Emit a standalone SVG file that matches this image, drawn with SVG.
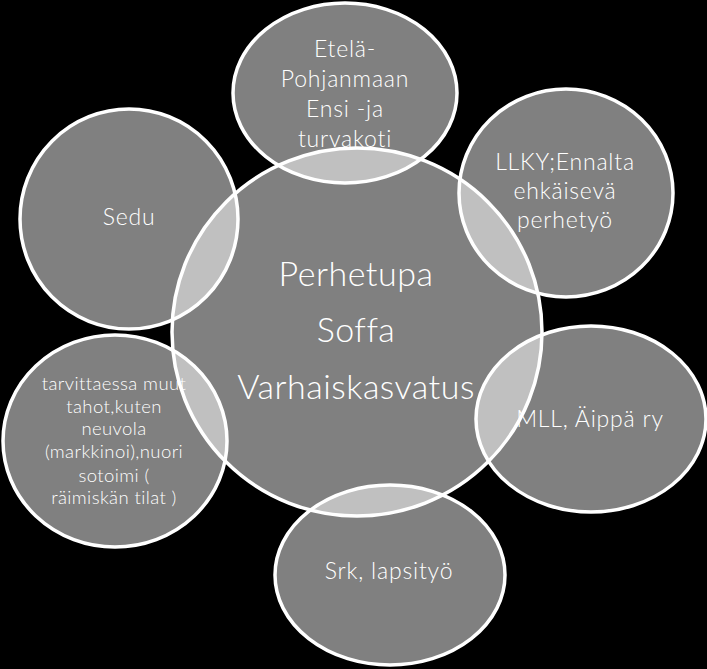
<svg xmlns="http://www.w3.org/2000/svg" width="707" height="669" viewBox="0 0 707 669">
<style>
.shape{fill:#ffffff;fill-opacity:0.5;stroke:#ffffff;stroke-width:3.5}
.t{fill:#ffffff;font-family:Lato,"Open Sans","Liberation Sans",sans-serif;font-weight:300;text-anchor:middle}
.s{font-size:23px;letter-spacing:0.8px}
.xs{font-size:18.5px;letter-spacing:0.4px}
.c{font-size:34px;letter-spacing:0.5px}
</style>
<rect x="0" y="0" width="707" height="669" fill="#000000"/>
<g id="node-etela">
<ellipse class="shape" cx="345" cy="93" rx="112" ry="90"/>
<text class="t s" x="345" y="57">Etelä-</text>
<text class="t s" x="345" y="87">Pohjanmaan</text>
<text class="t s" x="345" y="117">Ensi -ja</text>
<text class="t s" x="345" y="147">turvakoti</text>
</g>
<g id="node-llky">
<ellipse class="shape" cx="566" cy="193" rx="107" ry="104"/>
<text class="t s" x="565" y="170">LLKY;Ennalta</text>
<text class="t s" x="565" y="199">ehkäisevä</text>
<text class="t s" x="565" y="228">perhetyö</text>
</g>
<g id="node-sedu">
<ellipse class="shape" cx="129" cy="219" rx="109" ry="110"/>
<text class="t s" x="129" y="225">Sedu</text>
</g>
<g id="node-tarvittaessa">
<ellipse class="shape" cx="115" cy="441" rx="112" ry="106"/>
<text class="t xs" x="114" y="390">tarvittaessa muut</text>
<text class="t xs" x="114" y="413">tahot,kuten</text>
<text class="t xs" x="114" y="435">neuvola</text>
<text class="t xs" x="114" y="458">(markkinoi),nuori</text>
<text class="t xs" x="114" y="482">sotoimi (</text>
<text class="t xs" x="114" y="504">räimiskän tilat )</text>
</g>
<g id="node-mll">
<ellipse class="shape" cx="591" cy="419" rx="115" ry="93"/>
<text class="t s" x="590" y="427">MLL, Äippä ry</text>
</g>
<g id="node-srk">
<ellipse class="shape" cx="390" cy="575" rx="115" ry="90"/>
<text class="t s" x="389" y="579">Srk, lapsityö</text>
</g>
<g id="node-center">
<ellipse class="shape" cx="357" cy="332" rx="185" ry="184"/>
<text class="t c" x="356" y="286">Perhetupa</text>
<text class="t c" x="356" y="342">Soffa</text>
<text class="t c" x="356" y="399">Varhaiskasvatus</text>
</g>
</svg>
